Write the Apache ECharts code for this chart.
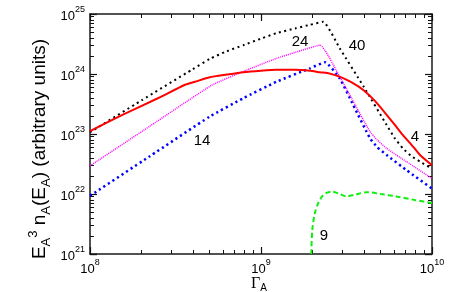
<!DOCTYPE html>
<html><head><meta charset="utf-8">
<script src="https://cdn.jsdelivr.net/npm/echarts@6/dist/echarts.min.js"></script>
<style>html,body{margin:0;padding:0;background:#fff}#c{width:454px;height:292px;background:#fff}</style>
</head><body><div id="c"></div>
<script>
// ---- data ----
const gammaRed = [1e8, 1.58e8, 2.51e8, 3.6e8, 4.11e8, 5.01e8, 6.31e8, 7.87e8, 1e9, 1.23e9, 1.58e9, 1.94e9, 2.21e9, 2.51e9, 2.88e9, 3.39e9, 3.98e9, 4.68e9, 5.43e9, 6.03e9, 6.76e9, 7.59e9, 8.51e9, 1e10];
const valRed = [1.12e23, 2.14e23, 3.98e23, 6.61e23, 7.41e23, 8.81e23, 9.77e23, 1.07e24, 1.135e24, 1.175e24, 1.175e24, 1.135e24, 1.07e24, 1.023e24, 9.02e23, 7.24e23, 5.37e23, 3.47e23, 2.09e23, 1.445e23, 9.55e22, 6.61e22, 4.47e22, 3.02e22];

const gammaBlack = [1e8, 2e8, 3.98e8, 5.01e8, 6.31e8, 7.87e8, 1e9, 1.23e9, 1.585e9, 1.936e9, 2.312e9, 2.884e9, 3.981e9, 5.433e9, 6.026e9, 6.761e9, 7.586e9, 8.511e9, 1e10];
const valBlack = [1.07e23, 3.63e23, 1.2e24, 1.78e24, 2.4e24, 3.02e24, 3.89e24, 4.79e24, 5.75e24, 6.61e24, 7.41e24, 2.69e24, 6.17e23, 1.41e23, 8.71e22, 5.75e22, 4.27e22, 3.47e22, 2.63e22];

const gammaMagenta = [1e8, 2.239e8, 5.129e8, 7.87e8, 1.23e9, 1.585e9, 2.213e9, 2.884e9, 3.467e9, 4.335e9, 4.786e9, 5.433e9, 7.079e9, 1e10];
const valMagenta = [2.95e22, 1.35e23, 6.46e23, 1.1e24, 1.82e24, 2.29e24, 3.02e24, 9.02e23, 3.47e23, 1.1e23, 7.94e22, 5.75e22, 3.47e22, 1.82e22];

const gammaBlue = [1e8, 2.239e8, 5.012e8, 7.87e8, 1.23e9, 1.936e9, 2.366e9, 2.884e9, 3.467e9, 4.335e9, 4.786e9, 5.433e9, 7.079e9, 1e10];
const valBlue = [9.33e21, 4.27e22, 1.95e23, 3.94e23, 7.41e23, 1.245e24, 1.567e24, 8.51e23, 3.02e23, 8.51e22, 6.03e22, 4.47e22, 2.51e22, 1.23e22];

const gammaGreen = [1.968e9, 1.995e9, 2.065e9, 2.163e9, 2.291e9, 2.421e9, 2.63e9, 2.884e9, 3.162e9, 3.548e9, 4.169e9, 5.012e9, 6.166e9, 7.943e9, 1e10];
const valGreen = [1.0e21, 2.51e21, 4.79e21, 7.08e21, 9.33e21, 1.047e22, 1.096e22, 1.0e22, 9.12e21, 9.77e21, 1.072e22, 1.0e22, 9.12e21, 7.94e21, 7.08e21];

const xTickValues = [1e8, 1e9, 1e10];
const yTickValues = [1e21, 1e22, 1e23, 1e24, 1e25];
const curveLabels = ['4', '14', '24', '40', '9'];

// ---- build ----
const zip = (a, b) => a.map((v, i) => [v, b[i]]);
const xMin = xTickValues[0], xMax = xTickValues[xTickValues.length - 1];
const yMin = yTickValues[0], yMax = yTickValues[yTickValues.length - 1];

const FONT = 'Liberation Sans, Arial, sans-serif';
const expFmt = v => '{b|10}{s|' + Math.round(Math.log10(v)) + '}';

function axisCommon(extra) {
  return Object.assign({
    type: 'log',
    axisLine: { show: true, onZero: false, lineStyle: { color: '#1a1a1a', width: 1.5 } },
    axisTick: { show: true, inside: true, length: 7, lineStyle: { color: '#111', width: 1.2 } },
    minorTick: { show: true, splitNumber: 9, length: 4, lineStyle: { color: '#111', width: 1 } },
    splitLine: { show: false },
    minorSplitLine: { show: false }
  }, extra);
}

const richTick = {
  b: { fontSize: 13, fontFamily: FONT, color: '#000', verticalAlign: 'bottom', lineHeight: 18 },
  s: { fontSize: 9, fontFamily: FONT, color: '#000', verticalAlign: 'top', lineHeight: 10 }
};

const chart = echarts.init(document.getElementById('c'));

const labelPos = [[415, 137], [202, 141], [300, 42], [357, 46], [324, 236]];

const textGraphics = [
    { type: 'text', x: 40, y: 149, rotation: Math.PI / 2,
      style: { text: '{m|E}{sb|A}{sp|3}{m| n}{sb|A}{m|(E}{sb|A}{m|) (arbitrary units)}',
        align: 'center', verticalAlign: 'middle', fill: '#000',
        rich: {
          m: { fontSize: 19, fontFamily: FONT, fill: '#000', lineHeight: 26, verticalAlign: 'middle' },
          sb: { fontSize: 13, fontFamily: FONT, fill: '#000', verticalAlign: 'bottom', lineHeight: 26 },
          sp: { fontSize: 13, fontFamily: FONT, fill: '#000', verticalAlign: 'top', lineHeight: 26 }
        } } },
    { type: 'text', x: 259, y: 284,
      style: { text: '{g|Γ}{a|A}', align: 'center', verticalAlign: 'middle',
        rich: { g: { fontSize: 16, fontFamily: 'Liberation Serif, DejaVu Serif, serif', fill: '#000', lineHeight: 18, verticalAlign: 'middle' },
                a: { fontSize: 10, fontFamily: FONT, fill: '#000', verticalAlign: 'bottom', lineHeight: 18 } } } }
  ].concat(curveLabels.map((t, i) => ({ type: 'text', x: labelPos[i][0], y: labelPos[i][1],
      style: { text: t, align: 'center', verticalAlign: 'middle', fontSize: 15, fontFamily: FONT, fill: '#000' } })));

chart.setOption({
  animation: false,
  grid: { left: 90, right: 22, top: 14, bottom: 38, containLabel: false },
  xAxis: [
    axisCommon({ position: 'bottom', min: xMin, max: xMax,
      axisLabel: { show: true, margin: 4, formatter: expFmt, color: '#000', rich: richTick } }),
    axisCommon({ position: 'top', min: xMin, max: xMax, axisLabel: { show: false } })
  ],
  yAxis: [
    axisCommon({ position: 'left', min: yMin, max: yMax,
      axisLabel: { show: true, margin: 5, formatter: expFmt, color: '#000', rich: richTick } }),
    axisCommon({ position: 'right', min: yMin, max: yMax, axisLabel: { show: false } })
  ],
  graphic: textGraphics,
  series: [
    { type: 'line', data: zip(gammaGreen, valGreen), showSymbol: false, smooth: 0.3,
      lineStyle: { color: '#11ee11', width: 2, type: [5, 3] } },
    { type: 'line', data: zip(gammaBlue, valBlue), showSymbol: false, smooth: 0.15,
      lineStyle: { color: '#0000ff', width: 2.5, type: [2.2, 3.2] } },
    { type: 'line', data: zip(gammaMagenta, valMagenta), showSymbol: false, smooth: 0.15,
      lineStyle: { color: '#ff00ff', width: 1.5, type: [1, 1] } },
    { type: 'line', data: zip(gammaBlack, valBlack), showSymbol: false, smooth: 0.15,
      lineStyle: { color: '#000000', width: 2, type: [2, 3.5] } },
    { type: 'line', data: zip(gammaRed, valRed), showSymbol: false, smooth: 0.2,
      lineStyle: { color: '#ff0000', width: 2 } }
  ]
});
</script>
</body></html>
